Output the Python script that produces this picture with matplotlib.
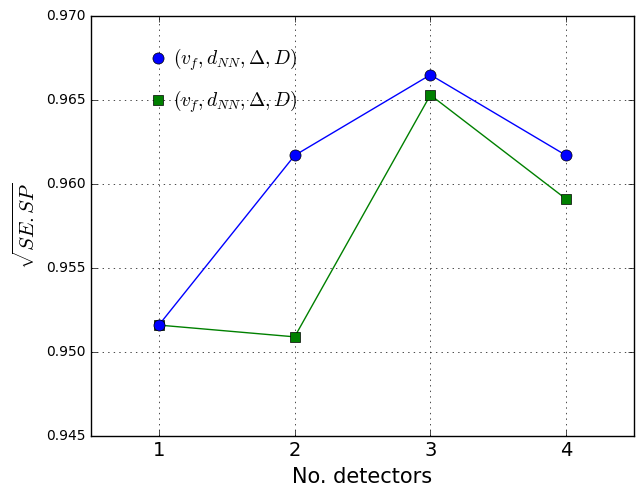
import matplotlib
matplotlib.use("Agg")
import matplotlib.pyplot as plt
from matplotlib.lines import Line2D

plt.style.use("classic")

detectors = [1, 2, 3, 4]
score_a = [0.9516, 0.9617, 0.9665, 0.9617]
score_b = [0.9516, 0.9509, 0.9653, 0.9591]
label = r"$(v_f, d_{NN}, \Delta, D)$"

fig = plt.figure(figsize=(6.36, 4.86), dpi=100)
ax = fig.add_axes([0.143, 0.103, 0.854, 0.864])

ax.plot(detectors, score_b, "gs-", markersize=7, zorder=3)
ax.plot(detectors, score_a, "bo-", markersize=8, zorder=4)

ax.set_xlim(0.5, 4.5)
ax.set_ylim(0.945, 0.970)
ax.set_xticks(detectors)
ax.set_yticks([0.945, 0.950, 0.955, 0.960, 0.965, 0.970])
ax.tick_params(axis="x", labelsize=14)
ax.tick_params(axis="y", labelsize=10)
ax.grid(True)
ax.set_xlabel("No. detectors", fontsize=15)
ax.set_ylabel(r"$\sqrt{SE.SP}$", fontsize=15)

# legend shows markers only
handles = [Line2D([], [], color="b", marker="o", linestyle="none", markersize=8),
           Line2D([], [], color="g", marker="s", linestyle="none", markersize=7)]
ax.legend(handles, [label, label], loc="upper left", frameon=False, numpoints=1,
          fontsize=14, bbox_to_anchor=(0.08, 0.97), handlelength=0.6,
          handletextpad=0.5, labelspacing=0.8)

fig.savefig("out.png", dpi=100)
